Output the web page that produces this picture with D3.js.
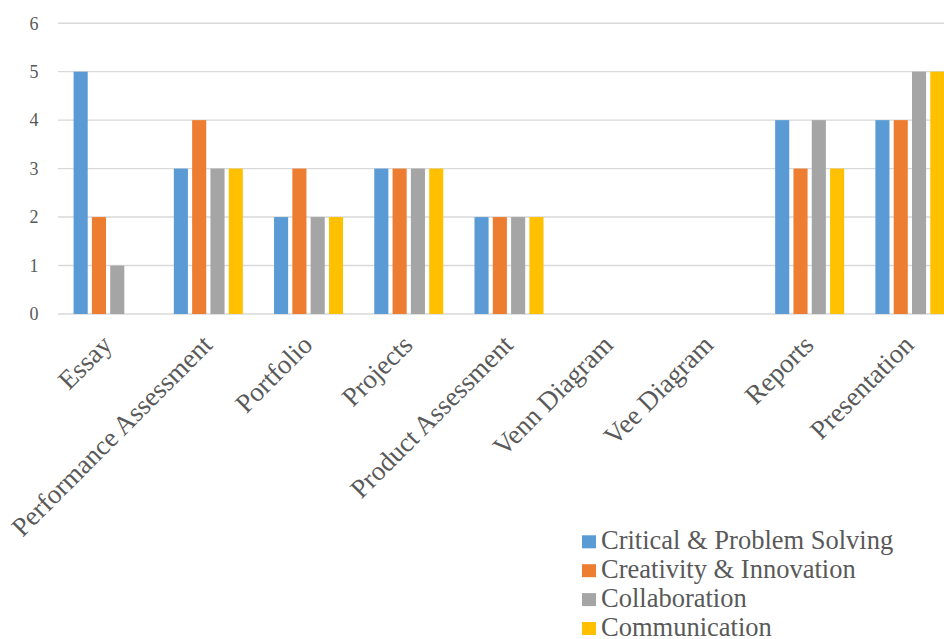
<!DOCTYPE html>
<html><head><meta charset="utf-8">
<script src="https://cdn.jsdelivr.net/npm/d3@7"></script>
<style>
html,body{margin:0;padding:0;background:#fff;}
svg{display:block;}
text{font-family:"Liberation Serif","Times New Roman",serif;fill:#595959;}
</style></head>
<body>
<svg id="chart" width="944" height="639"></svg>
<script>
const categories = ["Essay","Performance Assessment","Portfolio","Projects","Product Assessment","Venn Diagram","Vee Diagram","Reports","Presentation"];
const seriesNames = ["Critical & Problem Solving","Creativity & Innovation","Collaboration","Communication"];
const seriesColors = ["#5B9BD5","#ED7D31","#A5A5A5","#FFC000"];
const criticalValues = [5,3,2,3,2,0,0,4,4];
const creativityValues = [2,4,3,3,2,0,0,3,4];
const collaborationValues = [1,3,2,3,2,0,0,4,5];
const communicationValues = [0,3,2,3,2,0,0,3,5];
const yTicks = [0,1,2,3,4,5,6];

const seriesValues = [criticalValues, creativityValues, collaborationValues, communicationValues];
const svg = d3.select("#chart");

const x0 = d3.scaleBand().domain(categories).range([58, 960]).paddingInner(0).paddingOuter(0);
const x1 = d3.scaleBand().domain(d3.range(seriesNames.length)).range([15.6, x0.bandwidth() - 15.6]).paddingInner(0.23).paddingOuter(0);
const y = d3.scaleLinear().domain([0, 6]).range([314, 23.2]);

// gridlines
svg.append("g").selectAll("line").data(yTicks).join("line")
  .attr("x1", 58).attr("x2", 944)
  .attr("y1", d => y(d)).attr("y2", d => y(d))
  .attr("stroke", "#d9d9d9").attr("stroke-width", 1.4);

// y labels
svg.append("g").selectAll("text").data(yTicks).join("text")
  .attr("x", 38.5).attr("y", d => y(d)).attr("dy", "0.35em")
  .attr("text-anchor", "end").attr("font-size", 18).text(d => d);

// bars
const groups = svg.append("g").selectAll("g").data(categories).join("g")
  .attr("transform", d => `translate(${x0(d)},0)`);
groups.selectAll("rect")
  .data((c, i) => seriesValues.map((vals, s) => ({s, v: vals[i]})).filter(d => d.v > 0))
  .join("rect")
  .attr("x", d => x1(d.s)).attr("width", x1.bandwidth())
  .attr("y", d => y(d.v)).attr("height", d => y(0) - y(d.v))
  .attr("fill", d => seriesColors[d.s]);

// x labels
svg.append("g").selectAll("text").data(categories).join("text")
  .attr("transform", d => `translate(${x0(d) + x0.bandwidth()/2 + 5.5},${346.5}) rotate(-45)`)
  .attr("text-anchor", "end").attr("font-size", 27)
  .text(d => d);

// legend
const leg = svg.append("g").selectAll("g").data(seriesNames).join("g")
  .attr("transform", (d, i) => `translate(582,${541.8 + i * 28.9})`);
leg.append("rect").attr("x", 0).attr("y", -6.5).attr("width", 14).attr("height", 13)
  .attr("fill", (d, i) => seriesColors[i]);
leg.append("text").attr("x", 19).attr("y", 7.3)
  .attr("font-size", 26.5).text(d => d);
</script>
</body></html>
